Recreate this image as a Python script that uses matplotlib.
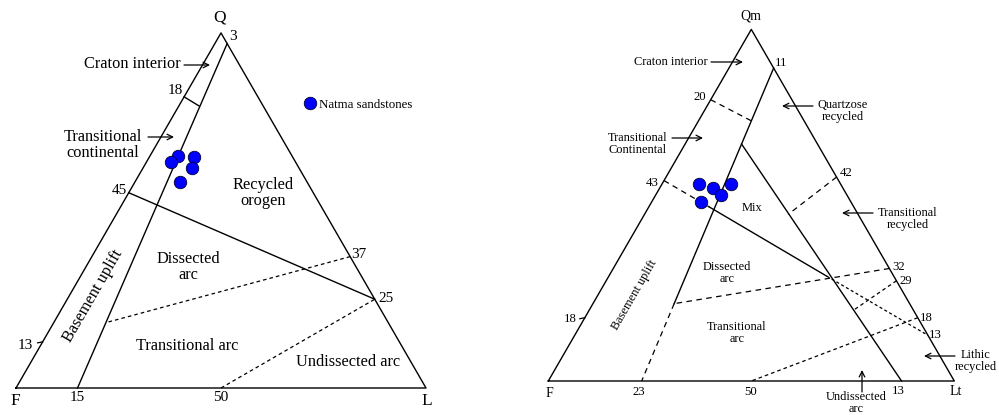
import numpy as np
import matplotlib.pyplot as plt

plt.rcParams['font.family'] = ['Liberation Serif', 'DejaVu Serif']
plt.rcParams['lines.scale_dashes'] = False

# Natma sandstones, modal compositions in percent
qfl_q = [66, 65, 63, 62, 58]
qfl_f = [28, 24, 30, 26, 31]
qfl_l = [7, 11, 6, 12, 11]

qmflt_qm = [56, 55, 56, 53, 51]
qmflt_f = [35, 32, 27, 31, 37]
qmflt_lt = [9, 13, 17, 16, 12]

# Dickinson field boundaries, (top, F, right) percent
qfl_solid = [
    [(0, 85, 15), (97, 0, 3)],
    [(82, 18, 0), (79.4, 15.6, 5)],
    [(55, 45, 0), (25, 0, 75)],
]
qfl_dashed = [
    [(37, 0, 63), (18.4, 68.9, 12.7)],
    [(0, 50, 50), (25, 0, 75)],
]
qfl_ticks = [(13, 87, 0)]

qmflt_solid = [
    [(89, 0, 11), (22, 58, 20)],
    [(67.4, 18.7, 13.9), (0, 13, 87)],
    [(49.5, 35.6, 14.9), (29.8, 16.5, 53.7)],
]
qmflt_dashed = [
    [(22, 58, 20), (0, 77, 23)],
    [(80, 20, 0), (74, 13, 13)],
    [(57, 43, 0), (49.5, 35.6, 14.9)],
    [(58, 0, 42), (47.4, 17.2, 35.4)],
    [(32, 0, 68), (22, 58, 20)],
]
qmflt_short = [
    [(28.5, 0, 71.5), (20, 15, 65)],
    [(18, 0, 82), (0, 50, 50)],
]
qmflt_dotted = [[(29.8, 16.5, 53.7), (13, 0, 87)]]
qmflt_ticks = [(18, 82, 0)]

W, H = 999, 415
fig = plt.figure(figsize=(W / 100, H / 100), dpi=100)
ax = fig.add_axes([0, 0, 1, 1])
ax.set_xlim(0, W)
ax.set_ylim(H, 0)
ax.axis('off')


def make_proj(x0, y0, side):
    h = side * np.sqrt(3) / 2

    def proj(top, f, right):
        top, f, right = (np.asarray(v, float) for v in (top, f, right))
        s = top + f + right
        return x0 + side * (right / s + 0.5 * top / s), y0 - h * top / s
    return proj


left = make_proj(16, 388, 410)
right = make_proj(548.3, 381, 406)


def segs(proj, lines, **kw):
    for seg in lines:
        x, y = proj(*zip(*seg))
        ax.plot(x, y, color='black', **kw)


for proj in (left, right):
    x, y = proj([0, 100, 0, 0], [100, 0, 0, 100], [0, 0, 100, 0])
    ax.plot(x, y, color='black', lw=1.0)

segs(left, qfl_solid, lw=1.0)
segs(left, qfl_dashed, lw=0.9, dashes=(2.6, 2.2))
segs(right, qmflt_solid, lw=1.0)
segs(right, qmflt_dashed, lw=0.9, dashes=(4, 3.2))
segs(right, qmflt_short, lw=0.9, dashes=(2.6, 2.2))
segs(right, qmflt_dotted, lw=0.9, dashes=(2.2, 1.8))

for proj, ticks in ((left, qfl_ticks), (right, qmflt_ticks)):
    for t in ticks:
        x, y = proj(*t)
        ax.plot([x - 5, x], [y + 1, y], color='black', lw=0.9)

x, y = left(qfl_q, qfl_f, qfl_l)
ax.plot(x, y, 'o', ms=9, mfc='#0000ff', mec='#000033', mew=0.6, ls='none',
        label='Natma sandstones')
x, y = right(qmflt_qm, qmflt_f, qmflt_lt)
ax.plot(x, y, 'o', ms=9, mfc='#0000ff', mec='#000033', mew=0.6, ls='none')

ax.legend(loc='center left', bbox_to_anchor=(305 / W, 1 - 104.5 / H),
          frameon=False, handlelength=0.8, handletextpad=0.3,
          borderpad=0, borderaxespad=0, fontsize=9.3)

arrow = dict(arrowstyle='->', color='black', lw=0.9, shrinkA=0, shrinkB=0)


def arr(x1, y1, x2, y2):
    ax.annotate('', xy=(x2, y2), xytext=(x1, y1), arrowprops=arrow)


def txt(x, y, s, size, **kw):
    kw.setdefault('ha', 'center')
    kw.setdefault('va', 'center')
    ax.text(x, y, s, fontsize=size, linespacing=0.95, **kw)


# left panel text
txt(220, 18, 'Q', 12.5)
txt(15, 401, 'F', 12.5)
txt(427, 401, 'L', 12.5)
txt(229, 37, '3', 11, ha='left')
txt(77, 397, '15', 11)
txt(221, 397, '50', 11)
txt(33, 345, '13', 11, ha='right')
txt(127, 190, '45', 11, ha='right')
txt(183, 91, '18', 11, ha='right')
txt(351, 254, '37', 11, ha='left')
txt(378, 298, '25', 11, ha='left')
txt(132, 64, 'Craton interior', 11.8)
arr(184, 65, 210, 65)
txt(103, 145, 'Transitional\ncontinental', 11.8)
arr(148, 137, 174, 137)
txt(263, 193, 'Recycled\norogen', 11.8)
txt(188, 267, 'Dissected\narc', 11.8)
txt(187, 346, 'Transitional arc', 11.8)
txt(348, 362, 'Undissected arc', 11.8)
txt(93, 296, 'Basement uplift', 11.8, rotation=60)

# right panel text
txt(751, 16, 'Qm', 10)
txt(549, 393, 'F', 10)
txt(956, 391, 'Lt', 10)
txt(639, 392, '23', 9.2)
txt(751, 392, '50', 9.2)
txt(898, 391, '13', 9.2)
txt(775, 63, '11', 9.2, ha='left')
txt(706, 97, '20', 9.2, ha='right')
txt(659, 183, '43', 9.2, ha='right')
txt(577, 319, '18', 9.2, ha='right')
txt(840, 173, '42', 9.2, ha='left')
txt(892, 267, '32', 9.2, ha='left')
txt(900, 281, '29', 9.2, ha='left')
txt(920, 318, '18', 9.2, ha='left')
txt(929, 335, '13', 9.2, ha='left')
txt(671, 62, 'Craton interior', 8.9)
arr(711, 62, 743, 62)
txt(843, 111, 'Quartzose\nrecycled', 8.9)
arr(813, 106, 782, 106)
txt(638, 144, 'Transitional\nContinental', 8.9)
arr(672, 138, 703, 138)
txt(752, 208, 'Mix', 8.9)
txt(908, 219, 'Transitional\nrecycled', 8.9)
arr(873, 213, 842, 213)
txt(727, 273, 'Dissected\narc', 8.9)
txt(737, 333, 'Transitional\narc', 8.9)
txt(976, 361, 'Lithic\nrecycled', 8.9)
arr(955, 356, 924, 356)
txt(856, 403, 'Undissected\narc', 8.9)
arr(862, 392, 862, 370)
txt(635, 295, 'Basement uplift', 8.9, rotation=60)

fig.savefig('out.png', dpi=100)
